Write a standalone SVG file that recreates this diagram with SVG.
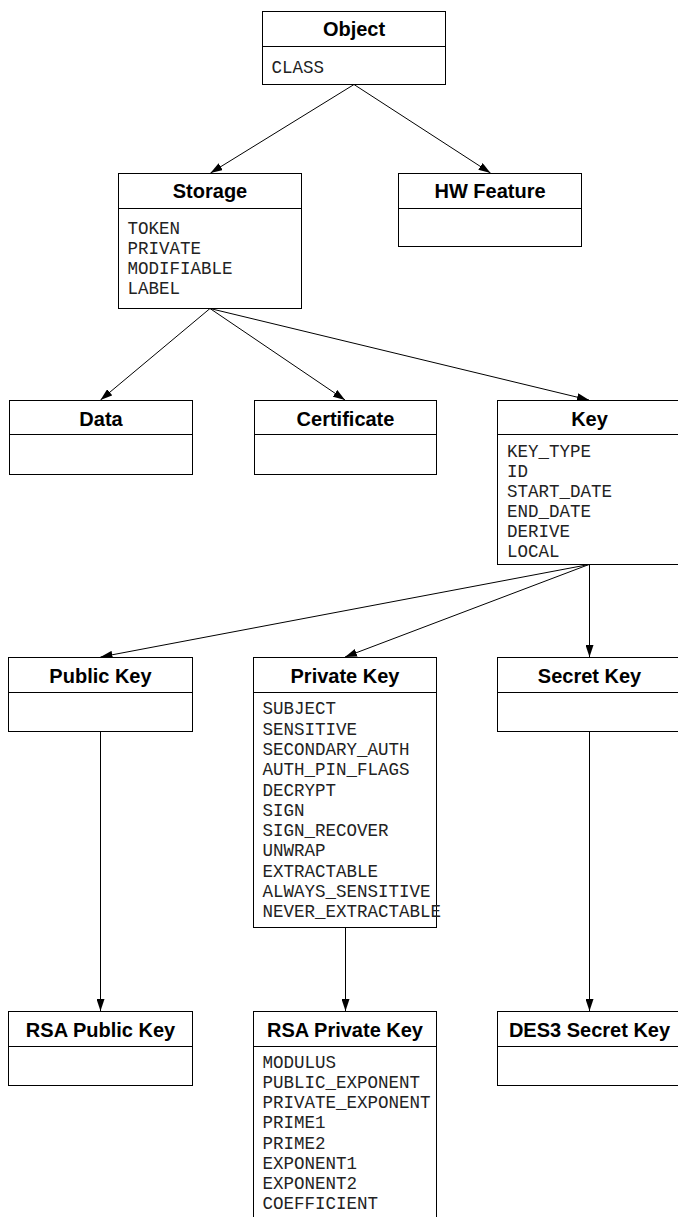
<svg xmlns="http://www.w3.org/2000/svg" width="678" height="1217" viewBox="0 0 678 1217">
<style>
.box{fill:#fff;stroke:#000;stroke-width:1}
.div{stroke:#000;stroke-width:1}
.t{font-family:"Liberation Sans",Arial,sans-serif;font-weight:bold;font-size:20px;text-anchor:middle;fill:#000}
.a{font-family:"Liberation Mono","Courier New",monospace;font-size:17.5px;fill:#222}
.c{stroke:#000;stroke-width:1;fill:none;marker-end:url(#arr)}
</style>
<defs>
<marker id="arr" markerUnits="userSpaceOnUse" markerWidth="12" markerHeight="8" refX="12" refY="4" orient="auto">
<path d="M0,0 L12,4 L0,8 z" fill="#000"/>
</marker>
</defs>
<rect width="678" height="1217" fill="#fff"/>
<g id="connectors">
<line class="c" x1="354" y1="84.5" x2="210.5" y2="173"/>
<line class="c" x1="354" y1="84.5" x2="490.5" y2="173"/>
<line class="c" x1="210" y1="308.5" x2="100.5" y2="400"/>
<line class="c" x1="210" y1="308.5" x2="345" y2="400"/>
<line class="c" x1="210" y1="308.5" x2="589" y2="400"/>
<line class="c" x1="589" y1="564.5" x2="100.5" y2="657"/>
<line class="c" x1="589" y1="564.5" x2="345" y2="657"/>
<line class="c" x1="589.5" y1="564.5" x2="589.5" y2="657"/>
<line class="c" x1="100.5" y1="731" x2="100.5" y2="1011"/>
<line class="c" x1="345.5" y1="928" x2="345.5" y2="1011"/>
<line class="c" x1="589.5" y1="731" x2="589.5" y2="1011"/>
</g>
<g id="object">
<rect class="box" x="262.5" y="11.5" width="183" height="73"/>
<line class="div" x1="262.5" y1="46.5" x2="445.5" y2="46.5"/>
<text class="t" x="354" y="36">Object</text>
<text class="a" x="271.5" y="72.5">CLASS</text>
</g>
<g id="storage">
<rect class="box" x="118.5" y="173.5" width="183" height="135"/>
<line class="div" x1="118.5" y1="208.5" x2="301.5" y2="208.5"/>
<text class="t" x="210" y="198">Storage</text>
<text class="a" x="127.5" y="234">TOKEN</text>
<text class="a" x="127.5" y="254">PRIVATE</text>
<text class="a" x="127.5" y="274">MODIFIABLE</text>
<text class="a" x="127.5" y="294">LABEL</text>
</g>
<g id="hwfeature">
<rect class="box" x="398.5" y="173.5" width="183" height="73"/>
<line class="div" x1="398.5" y1="208.5" x2="581.5" y2="208.5"/>
<text class="t" x="490" y="198">HW Feature</text>
</g>
<g id="data">
<rect class="box" x="9.5" y="400.5" width="183" height="74"/>
<line class="div" x1="9.5" y1="434.5" x2="192.5" y2="434.5"/>
<text class="t" x="101" y="425.5">Data</text>
</g>
<g id="certificate">
<rect class="box" x="254.5" y="400.5" width="182" height="74"/>
<line class="div" x1="254.5" y1="434.5" x2="436.5" y2="434.5"/>
<text class="t" x="345.5" y="425.5">Certificate</text>
</g>
<g id="key">
<rect class="box" x="497.5" y="400.5" width="184" height="164"/>
<line class="div" x1="497.5" y1="434.5" x2="681.5" y2="434.5"/>
<text class="t" x="589.5" y="425.5">Key</text>
<text class="a" x="507" y="457.3">KEY_TYPE</text>
<text class="a" x="507" y="477.3">ID</text>
<text class="a" x="507" y="497.3">START_DATE</text>
<text class="a" x="507" y="517.3">END_DATE</text>
<text class="a" x="507" y="537.3">DERIVE</text>
<text class="a" x="507" y="557.3">LOCAL</text>
</g>
<g id="publickey">
<rect class="box" x="8.5" y="657.5" width="184" height="74"/>
<line class="div" x1="8.5" y1="692.5" x2="192.5" y2="692.5"/>
<text class="t" x="100.5" y="683">Public Key</text>
</g>
<g id="privatekey">
<rect class="box" x="253.5" y="657.5" width="183" height="270"/>
<line class="div" x1="253.5" y1="692.5" x2="436.5" y2="692.5"/>
<text class="t" x="345" y="683">Private Key</text>
<text class="a" x="262.5" y="714.3">SUBJECT</text>
<text class="a" x="262.5" y="734.6">SENSITIVE</text>
<text class="a" x="262.5" y="754.9">SECONDARY_AUTH</text>
<text class="a" x="262.5" y="775.2">AUTH_PIN_FLAGS</text>
<text class="a" x="262.5" y="795.5">DECRYPT</text>
<text class="a" x="262.5" y="815.8">SIGN</text>
<text class="a" x="262.5" y="836.1">SIGN_RECOVER</text>
<text class="a" x="262.5" y="856.4">UNWRAP</text>
<text class="a" x="262.5" y="876.7">EXTRACTABLE</text>
<text class="a" x="262.5" y="897">ALWAYS_SENSITIVE</text>
<text class="a" x="262.5" y="917.3">NEVER_EXTRACTABLE</text>
</g>
<g id="secretkey">
<rect class="box" x="497.5" y="657.5" width="184" height="74"/>
<line class="div" x1="497.5" y1="692.5" x2="681.5" y2="692.5"/>
<text class="t" x="589.5" y="683">Secret Key</text>
</g>
<g id="rsapublickey">
<rect class="box" x="8.5" y="1011.5" width="184" height="74"/>
<line class="div" x1="8.5" y1="1046.5" x2="192.5" y2="1046.5"/>
<text class="t" x="100.5" y="1037">RSA Public Key</text>
</g>
<g id="rsaprivatekey">
<rect class="box" x="253.5" y="1011.5" width="183" height="230"/>
<line class="div" x1="253.5" y1="1046.5" x2="436.5" y2="1046.5"/>
<text class="t" x="345" y="1037">RSA Private Key</text>
<text class="a" x="262.5" y="1067.7">MODULUS</text>
<text class="a" x="262.5" y="1087.9">PUBLIC_EXPONENT</text>
<text class="a" x="262.5" y="1108.1">PRIVATE_EXPONENT</text>
<text class="a" x="262.5" y="1128.3">PRIME1</text>
<text class="a" x="262.5" y="1148.5">PRIME2</text>
<text class="a" x="262.5" y="1168.7">EXPONENT1</text>
<text class="a" x="262.5" y="1188.9">EXPONENT2</text>
<text class="a" x="262.5" y="1209.1">COEFFICIENT</text>
</g>
<g id="des3secretkey">
<rect class="box" x="497.5" y="1011.5" width="184" height="74"/>
<line class="div" x1="497.5" y1="1046.5" x2="681.5" y2="1046.5"/>
<text class="t" x="589.5" y="1037">DES3 Secret Key</text>
</g>
</svg>
